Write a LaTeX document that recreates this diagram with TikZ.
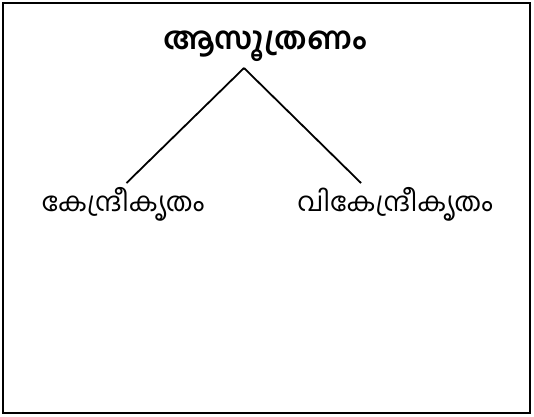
\documentclass[tikz,border=0pt]{standalone}
\usepackage{fontspec}
\newfontfamily\mlfont[Script=Malayalam]{Hind Kochi}
\begin{document}
\begin{tikzpicture}[x=1pt,y=-1pt,
  lbl/.style={font=\mlfont\fontsize{26.5}{30}\selectfont, inner sep=0pt},
  ttl/.style={font=\mlfont\bfseries\fontsize{31}{36}\selectfont, inner sep=0pt},
  edge/.style={line width=1.8pt}]
\useasboundingbox (0,0) rectangle (534,416);
\draw[line width=2pt] (3,3) rectangle (530,413);
\node[ttl] (root) at (265,46) {ആസൂത്രണം};
\node[lbl] (left) at (123,204) {കേന്ദ്രീകൃതം};
\node[lbl] (right) at (395,204) {വികേന്ദ്രീകൃതം};
\coordinate (apex) at (244,68);
\coordinate (lend) at (126.5,183);
\coordinate (rend) at (361,183);
\draw[edge] (apex) -- (lend);
\draw[edge] (apex) -- (rend);
\end{tikzpicture}
\end{document}
